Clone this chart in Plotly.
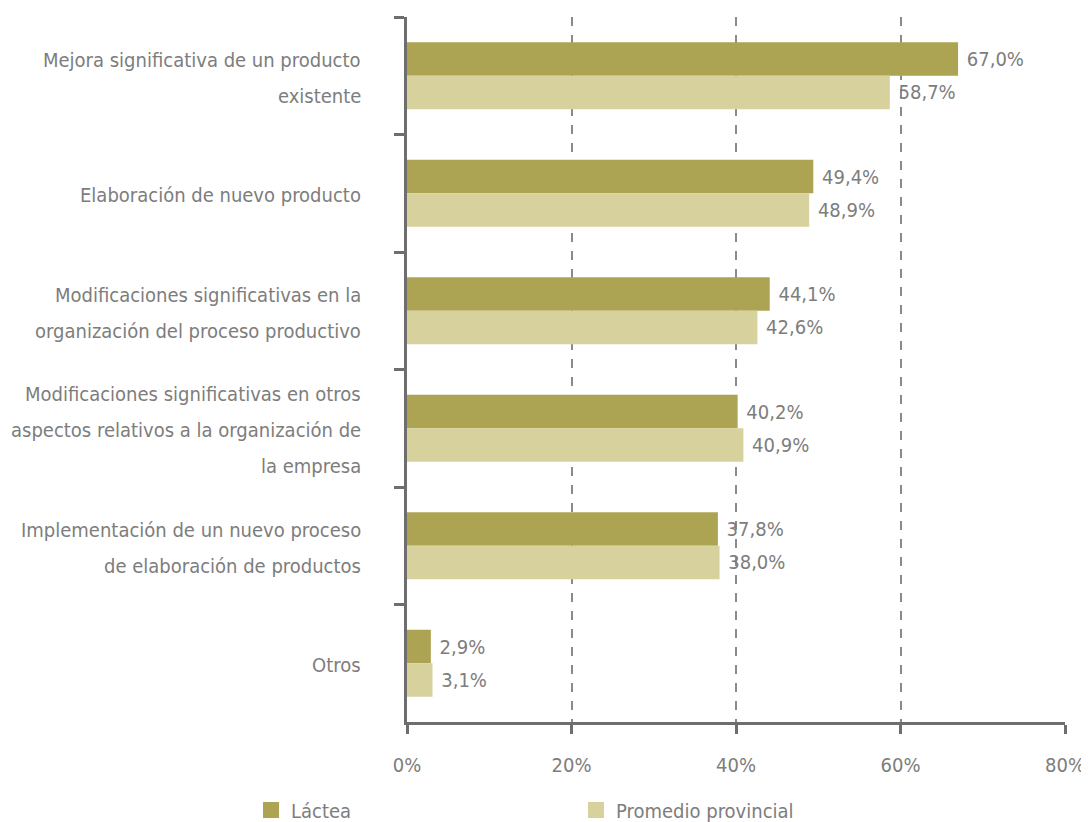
import plotly.graph_objects as go

categories = [
    "Mejora significativa de un producto<br>existente",
    "Elaboración de nuevo producto",
    "Modificaciones significativas en la<br>organización del proceso productivo",
    "Modificaciones significativas en otros<br>aspectos relativos a la organización de<br>la empresa",
    "Implementación de un nuevo proceso<br>de elaboración de productos",
    "Otros",
]
lactea = [67.0, 49.4, 44.1, 40.2, 37.8, 2.9]
promedio = [58.7, 48.9, 42.6, 40.9, 38.0, 3.1]
series_names = ["Láctea", "Promedio provincial"]
colors = ["#ADA453", "#D7D19E"]
x_ticks = [0, 20, 40, 60, 80]

FONT = "Liberation Sans Narrow, DejaVu Sans Condensed, Roboto Condensed, Arial Narrow, sans-serif"
GRAY = "#7d7d7d"
AXIS = "#6e6e6e"
FS = 20
W, H = 1081, 814  # page body has an 8px margin

def fmt(v):
    return "\u00a0" + f"{v:.1f}".replace(".", ",") + "%"

fig = go.Figure()
for name, vals, col in zip(series_names, [lactea, promedio], colors):
    fig.add_trace(go.Bar(
        y=categories, x=vals, orientation="h", name=name,
        marker=dict(color=col, line=dict(width=0)),
        text=[fmt(v) for v in vals], textposition="outside",
        textfont=dict(family=FONT, size=FS, color=GRAY),
        cliponaxis=False, showlegend=False,
    ))
    fig.add_trace(go.Scatter(
        x=[None], y=[None], mode="markers", name=name,
        marker=dict(symbol="square", size=18, color=col),
        showlegend=True,
    ))

# category labels (one annotation per line for wider line spacing)
LS = 36
for cat in categories:
    lines = cat.split("<br>")
    n = len(lines)
    for i, ln in enumerate(lines):
        fig.add_annotation(
            x=0, xref="paper", y=cat, yref="y",
            text=ln, showarrow=False, xanchor="right", yanchor="middle",
            xshift=-44, yshift=-(i - (n - 1) / 2) * LS - 2,
            font=dict(family=FONT, size=FS, color=GRAY),
        )

fig.update_layout(
    width=W, height=H,
    margin=dict(l=399, r=24, t=9, b=100, autoexpand=False),
    paper_bgcolor="white", plot_bgcolor="white",
    barmode="group", bargap=0.43, bargroupgap=0,
    font=dict(family=FONT, size=FS, color=GRAY),
    legend=dict(
        orientation="h", xref="container", yref="container",
        x=243 / W, y=1 - 802 / H, xanchor="left", yanchor="middle",
        entrywidth=280, font=dict(family=FONT, size=FS, color=GRAY),
        itemclick=False,
    ),
    xaxis=dict(
        range=[0, 80], tickvals=x_ticks, ticktext=[f"{t}%" for t in x_ticks],
        showgrid=True, gridcolor="#8a8a8a", gridwidth=1.5, griddash="dash",
        zeroline=False, showline=True, linecolor=AXIS, linewidth=2.5,
        ticks="outside", ticklen=9, tickwidth=2.5, tickcolor=AXIS,
        ticklabelstandoff=14,
        tickfont=dict(family=FONT, size=FS, color=GRAY),
    ),
    yaxis=dict(
        autorange="reversed", showticklabels=False,
        showline=True, linecolor=AXIS, linewidth=2.5,
        ticks="outside", ticklen=10, tickwidth=2.5, tickcolor=AXIS,
        tickson="boundaries", showgrid=False, zeroline=False,
    ),
)

fig.write_html("out.html")
